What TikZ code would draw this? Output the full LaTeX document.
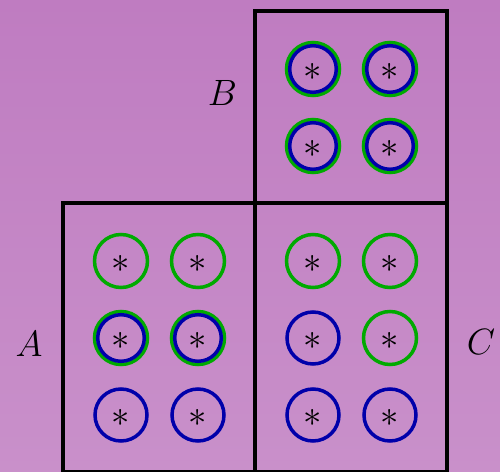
\documentclass[tikz,border=0pt]{standalone}
\begin{document}
\begin{tikzpicture}[x=0.5pt,y=-0.5pt,
  boxline/.style={draw=black,line width=2pt},
  gring/.style={draw=grn,line width=1.75pt},
  bring/.style={draw=blu,line width=1.75pt},
  star/.style={inner sep=0pt,font=\LARGE,scale=1.06,transform shape,yshift=-1.2pt},
  lab/.style={inner sep=0pt,font=\LARGE,scale=1.06,transform shape}]
\definecolor{grn}{RGB}{0,170,0}
\definecolor{blu}{RGB}{0,0,170}
\definecolor{bgtop}{RGB}{191,124,193}
\definecolor{bgbot}{RGB}{201,144,202}
\shade[top color=bgtop,bottom color=bgbot] (0,0) rectangle (500,472);
\useasboundingbox (0,0) rectangle (500,472);
\clip (0,0) rectangle (500,472);
% boxes
\draw[boxline] (255,11) rectangle (447,203);
\draw[boxline] (63,203) rectangle (255,472);
\draw[boxline] (255,203) rectangle (447,472);
% circles: g = green, b = blue, d = double
\foreach \cx/\cy/\k [count=\i] in {
  313/69/d, 390/69/d, 313/146/d, 390/146/d,
  121/261/g, 198/261/g, 121/338/d, 198/338/d, 121/415/b, 198/415/b,
  313/261/g, 390/261/g, 313/338/b, 390/338/g, 313/415/b, 390/415/b}{
  \if g\k \draw[gring] (\cx,\cy) circle[radius=26.5];\fi
  \if b\k \draw[bring] (\cx,\cy) circle[radius=26];\fi
  \if d\k \draw[gring] (\cx,\cy) circle[radius=26.5];
          \draw[bring] (\cx,\cy) circle[radius=23.3];\fi
  \node[star] (s\i) at (\cx,\cy) {$\ast$};
}
% labels
\node[lab] (la) at (29,344) {$A$};
\node[lab] (lb) at (222.5,93) {$B$};
\node[lab] (lc) at (481,342) {$C$};
\end{tikzpicture}
\end{document}
